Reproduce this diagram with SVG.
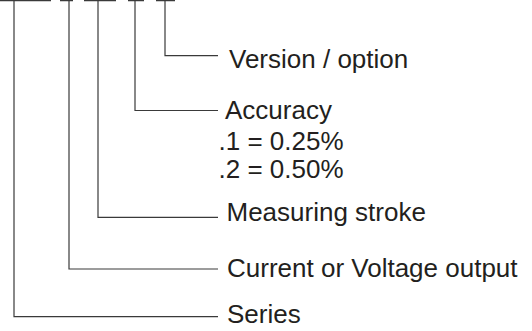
<svg xmlns="http://www.w3.org/2000/svg" width="532" height="331" viewBox="0 0 532 331">
<style>
.ln{fill:none;stroke:#3a3a3a;stroke-width:1.2}
.t{font-family:"Liberation Sans",Arial,sans-serif;font-size:26px;fill:#231f20}
</style>
<rect width="532" height="331" fill="#fff"/>
<g id="code-bars">
<path class="ln" d="M0 0.6H51M60 0.6H73M84 0.6H116M128 0.6H144M156 0.6H175"/>
</g>
<g id="connectors">
<path class="ln" d="M165 0V55.7H218"/>
<path class="ln" d="M135 0V110.5H218"/>
<path class="ln" d="M98 0V217.3H218"/>
<path class="ln" d="M69 0V269H218"/>
<path class="ln" d="M14 0V316.7H218"/>
</g>
<g id="version"><text class="t" x="229" y="68.3">Version / option</text></g>
<g id="accuracy">
<text class="t" x="225" y="118.5">Accuracy</text>
<text class="t" x="218.5" y="150">.1 = 0.25%</text>
<text class="t" x="218.5" y="178.3">.2 = 0.50%</text>
</g>
<g id="measuring"><text class="t" x="226.5" y="220.7">Measuring stroke</text></g>
<g id="output"><text class="t" x="227" y="276.7">Current or Voltage output</text></g>
<g id="series"><text class="t" x="227" y="323.3">Series</text></g>
</svg>
